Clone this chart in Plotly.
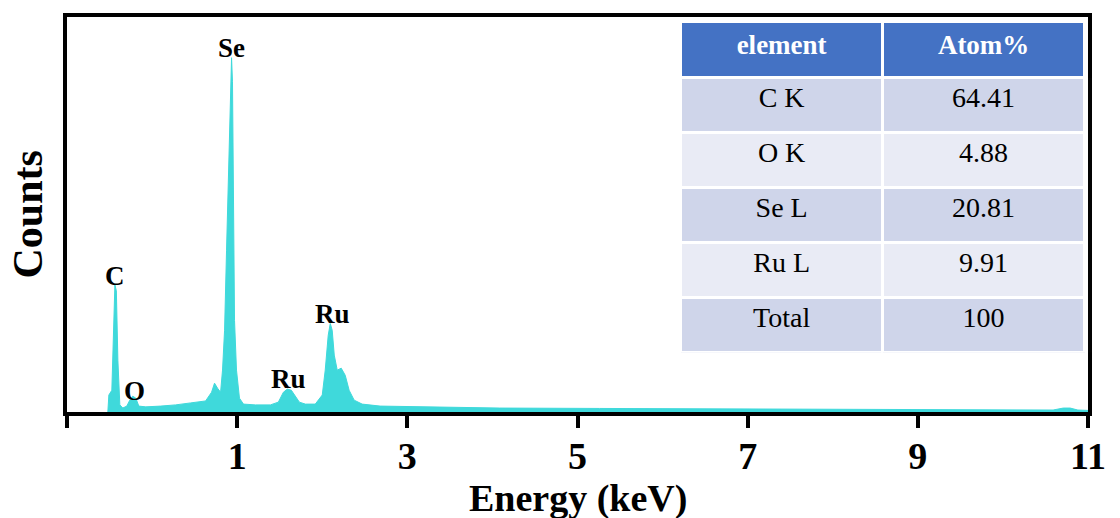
import plotly.graph_objects as go

# ---- spectrum (Energy in keV as labelled on the axis, counts in arbitrary units) ----
energy_kev = [-0.52, -0.508, -0.473, -0.449, -0.437, -0.420, -0.402, -0.379, -0.344, -0.297,
              -0.262, -0.227, -0.191, -0.156, -0.074, 0.102, 0.277, 0.453, 0.629, 0.699,
              0.734, 0.770, 0.805, 0.828, 0.852, 0.875, 0.899, 0.922, 0.934, 0.945,
              0.957, 0.969, 0.992, 1.027, 1.074, 1.215, 1.391, 1.484, 1.543, 1.590,
              1.637, 1.684, 1.731, 1.801, 1.918, 2.000, 2.035, 2.070, 2.094, 2.117,
              2.141, 2.176, 2.223, 2.270, 2.316, 2.375, 2.469, 2.680, 3.149, 4.086,
              5.258, 6.430, 7.602, 8.774, 9.946, 10.59, 10.71, 10.79, 10.88, 11.0]
counts = [0, 43, 55, 282, 322, 307, 131, 18, 10, 15,
          30, 40, 35, 15, 13, 15, 18, 23, 28, 50,
          73, 60, 50, 106, 207, 408, 635, 861, 897, 836,
          534, 232, 106, 35, 20, 18, 18, 25, 50, 58,
          55, 40, 25, 20, 20, 43, 106, 194, 224, 207,
          144, 106, 111, 93, 55, 30, 20, 15, 13, 10,
          9, 8, 7, 6, 5, 5, 10, 10, 5, 4]

# ---- peak labels ----
peak_labels = ["C", "O", "Se", "Ru", "Ru"]
peak_label_x = [-0.436, -0.2125, 0.928, 1.598, 2.115]
peak_label_y = [344, 53, 922, 84, 248]

# ---- axis ticks ----
x_tick_vals = [-1, 1, 3, 5, 7, 9, 11]
x_tick_text = ["", "1", "3", "5", "7", "9", "11"]

# ---- table ----
table_header = ["element", "Atom%"]
table_elements = ["C K", "O K", "Se L", "Ru L", "Total"]
table_atom_pct = ["64.41", "4.88", "20.81", "9.91", "100"]

FONT = "Liberation Serif"
CYAN = "#3FD9DB"

fig = go.Figure()
fig.add_trace(go.Scatter(
    x=energy_kev, y=counts, mode="lines",
    line=dict(color=CYAN, width=1),
    fill="tozeroy", fillcolor=CYAN,
    hoverinfo="skip", showlegend=False,
))

row_fill = ["#CFD5EA" if i % 2 == 0 else "#E9EBF5" for i in range(len(table_elements))]
fig.add_trace(go.Table(
    domain=dict(x=[0.601, 0.997], y=[0.15, 0.988]),
    columnwidth=[1, 1],
    header=dict(values=["<b>%s</b>" % h for h in table_header],
                fill_color="#4472C4",
                line=dict(color="white", width=3),
                font=dict(family=FONT, size=27, color="white"),
                align="center", height=56),
    cells=dict(values=[table_elements, table_atom_pct],
               fill_color=[row_fill, row_fill],
               line=dict(color="white", width=3),
               font=dict(family=FONT, size=28, color="black"),
               align="center", height=55),
))

for lab, lx, ly in zip(peak_labels, peak_label_x, peak_label_y):
    fig.add_annotation(x=lx, y=ly, xref="x", yref="y", text="<b>%s</b>" % lab,
                       showarrow=False, xanchor="center", yanchor="middle",
                       font=dict(family=FONT, size=27, color="black"))

fig.add_annotation(x=-0.0382, y=0.5, xref="paper", yref="paper", text="<b>Counts</b>",
                   textangle=-90, showarrow=False, xanchor="center", yanchor="middle",
                   font=dict(family=FONT, size=42, color="black"))
fig.add_annotation(x=0.5, y=-0.218, xref="paper", yref="paper", text="<b>Energy (keV)</b>",
                   showarrow=False, xanchor="center", yanchor="middle",
                   font=dict(family=FONT, size=38, color="black"))

fig.update_layout(
    width=1120, height=518,
    margin=dict(l=67, r=32, t=17, b=106),
    paper_bgcolor="white", plot_bgcolor="white",
    xaxis=dict(range=[-1, 11], tickmode="array", tickvals=x_tick_vals, ticktext=x_tick_text,
               ticks="outside", ticklen=12, tickwidth=4, tickcolor="black",
               showline=True, linewidth=4, linecolor="black", mirror=True,
               showgrid=False, zeroline=False, ticklabelstandoff=-5,
               tickfont=dict(family=FONT, size=38, color="black", weight="bold")),
    yaxis=dict(range=[0, 1000], showticklabels=False, ticks="",
               showline=True, linewidth=4, linecolor="black", mirror=True,
               showgrid=False, zeroline=False),
)

fig.write_html("out.html")
